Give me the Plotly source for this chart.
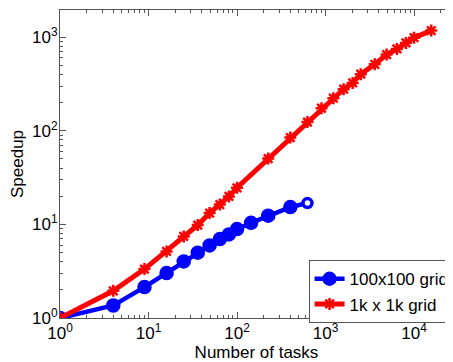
import plotly.graph_objects as go

# Data
tasks_small = [1, 4, 9, 16, 25, 36, 49, 64, 81, 100, 144, 225, 400, 625]
speedup_small = [1.0, 1.36, 2.14, 3.02, 4.02, 4.98, 5.96, 6.97, 7.8, 8.9, 10.4, 12.4, 15.3, 16.9]

tasks_large = [1, 4, 9, 16, 25, 36, 49, 64, 81, 100, 225, 400, 625, 900, 1225, 1600,
               2025, 2500, 3600, 4900, 6400, 8100, 10000, 15625]
speedup_large = [1.0, 1.95, 3.33, 5.14, 7.43, 9.84, 13.2, 16.3, 19.9, 24.6, 50.5, 84.7,
                 124, 174, 223, 278, 324, 402, 513, 652, 748, 867, 988, 1175]

x_tickvals = [1, 10, 100, 1000, 10000]
x_ticktext = ["10<sup>0</sup>", "10<sup>1</sup>", "10<sup>2</sup>", "10<sup>3</sup>", "10<sup>4</sup>"]
y_tickvals = [1, 10, 100, 1000]
y_ticktext = ["10<sup>0</sup>", "10<sup>1</sup>", "10<sup>2</sup>", "10<sup>3</sup>"]

FONT = "Liberation Sans, Arial, Helvetica, sans-serif"
AXC = "#555555"

n = len(tasks_small)
fig = go.Figure()
fig.add_trace(go.Scatter(
    x=tasks_small, y=speedup_small, mode="lines+markers", name="100x100 grid",
    line=dict(color="#0000ff", width=4.5),
    marker=dict(symbol="circle", size=[13] * (n - 1) + [9],
                color=["#0000ff"] * (n - 1) + ["white"], opacity=1,
                line=dict(color="#0000ff", width=[1.5] * (n - 1) + [3.5])),
))
fig.add_trace(go.Scatter(
    x=tasks_large, y=speedup_large, mode="lines+markers", name="1k x 1k grid",
    line=dict(color="#ff0000", width=5),
    marker=dict(symbol="asterisk-open", size=10, color="#ff0000",
                line=dict(color="#ff0000", width=2.5)),
))

axis_common = dict(
    type="log", showgrid=False, zeroline=False, showline=True, linecolor=AXC, linewidth=1,
    mirror="ticks", ticks="inside", ticklen=6, tickcolor=AXC, tickwidth=1, automargin=False,
    tickfont=dict(family=FONT, size=17, color="black"),
    minor=dict(dtick="D1", ticks="inside", ticklen=3, tickcolor=AXC, tickwidth=1, showgrid=False),
)

fig.update_xaxes(**axis_common, range=[0, 4.44], tickmode="array",
                 tickvals=x_tickvals, ticktext=x_ticktext, ticklabelstandoff=0,
                 title=dict(text="Number of tasks", font=dict(family=FONT, size=17, color="black"),
                            standoff=2))
fig.update_yaxes(**axis_common, range=[0, 3.29], tickmode="array",
                 tickvals=y_tickvals, ticktext=y_ticktext, ticklabelstandoff=-2,
                 title=dict(text="Speedup", font=dict(family=FONT, size=17, color="black"),
                            standoff=8))

# the page body adds an 8px offset, so the figure is sized to end at the window edges
fig.update_layout(
    width=445, height=354,
    margin=dict(l=52, r=0, t=2, b=44, autoexpand=False),
    paper_bgcolor="white", plot_bgcolor="white",
    font=dict(family=FONT, size=17, color="black"),
    showlegend=True,
    legend=dict(x=1.004, xanchor="right", y=-0.017, yanchor="bottom",
                bgcolor="white", bordercolor=AXC, borderwidth=1,
                font=dict(family=FONT, size=17, color="black"),
                tracegroupgap=0, itemwidth=30),
)

fig.write_html("out.html")
